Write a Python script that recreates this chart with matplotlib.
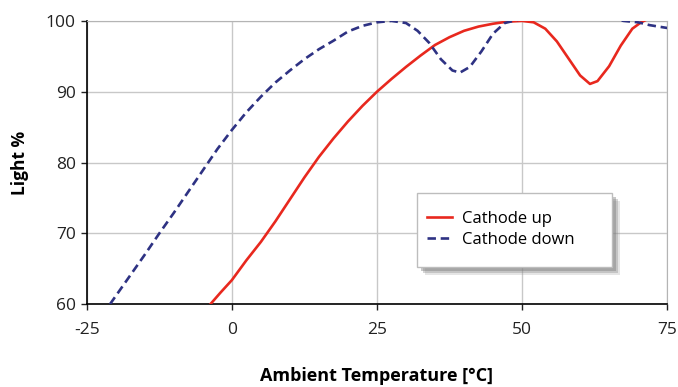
import matplotlib.pyplot as plt
import matplotlib.patheffects as pe
from matplotlib.patches import Rectangle

plt.rcParams['font.family'] = ['Open Sans', 'DejaVu Sans']
plt.rcParams['axes.unicode_minus'] = False

# data (values just over 100 sit under the top border)
up_x = [-3.7, -2, 0, 2.5, 5, 7.5, 10, 12.5, 15, 17.5, 20, 22.5, 25, 27.5, 30, 32.5, 35, 37.5, 40, 42.5, 45, 47.5, 50,
        52, 54, 56, 58, 60, 61.7, 63, 65, 67, 69, 70.5, 72, 75]
up_y = [60, 61.6, 63.4, 66.2, 68.8, 71.7, 74.8, 77.9, 80.8, 83.4, 85.8, 88, 90, 91.8, 93.5, 95.1, 96.6, 97.7, 98.6, 99.2, 99.6, 99.9, 100,
        99.8, 98.9, 97.1, 94.7, 92.3, 91.1, 91.5, 93.6, 96.5, 98.9, 99.8, 100.4, 100.6]

down_x = [-21, -18, -15, -12.5, -10, -7.5, -5, -2.5, 0, 2.5, 5, 7.5, 10, 12.5, 15, 17.5, 20, 22.5, 25, 27.5, 30,
          32, 34, 36, 38, 39.3, 41, 43, 45, 47, 49, 52, 60, 65, 67.5, 70, 72, 75]
down_y = [60, 63.5, 67, 70, 72.9, 75.9, 78.9, 81.9, 84.6, 87.1, 89.3, 91.3, 93, 94.6, 96, 97.2, 98.5, 99.3, 99.8, 100, 99.7,
          98.6, 96.9, 94.6, 93, 92.7, 93.5, 95.7, 98.2, 99.7, 100.1, 100.6, 100.6, 100.4, 100, 99.8, 99.4, 99]

x_ticks = [-25, 0, 25, 50, 75]
y_ticks = [60, 70, 80, 90, 100]

fig = plt.figure(figsize=(6.78, 3.87), dpi=100)
ax = fig.add_axes([0.128, 0.214, 0.856, 0.732])

ax.plot(up_x, up_y, color='#e8281e', lw=1.9, label='Cathode up', zorder=3)
ax.plot(down_x, down_y, color='#2e3283', lw=1.9, ls=(0, (3.2, 1.8)), label='Cathode down', zorder=3)

ax.set_xlim(-25, 75)
ax.set_ylim(60, 100)
ax.set_xticks(x_ticks)
ax.set_yticks(y_ticks)
ax.grid(True, color='#c8c8c8', lw=1)
ax.set_axisbelow(True)

for s in ['top', 'right']:
    ax.spines[s].set_color('#b4b4b4')
for s in ['left', 'bottom']:
    ax.spines[s].set_color('#000000')
    ax.spines[s].set_linewidth(1.2)

ax.tick_params(axis='both', labelsize=12.5, colors='#222222', length=4, width=1)
ax.tick_params(axis='x', pad=9)
ax.tick_params(axis='y', pad=4)

ax.set_ylabel('Light %', fontsize=12.5, fontweight='bold', labelpad=12)
ax.set_xlabel('Ambient Temperature [°C]', fontsize=13, fontweight='bold', labelpad=21)

# legend box with a soft shadow
box = Rectangle((0.569, 0.131), 0.336, 0.261, transform=ax.transAxes, facecolor='white',
                edgecolor='#bdbdbd', lw=1, zorder=5)
box.set_path_effects([
    pe.SimplePatchShadow(offset=(6, -6), shadow_rgbFace='#999999', alpha=0.25),
    pe.SimplePatchShadow(offset=(4.5, -4.5), shadow_rgbFace='#888888', alpha=0.35),
    pe.SimplePatchShadow(offset=(3, -3), shadow_rgbFace='#777777', alpha=0.4),
    pe.Normal()])
ax.add_patch(box)

leg = ax.legend(loc='center left', bbox_to_anchor=(0.586, 0.263), frameon=False,
                fontsize=12, handlelength=1.5, handletextpad=0.6, labelspacing=0.3,
                borderpad=0, borderaxespad=0)
leg.set_zorder(6)

fig.savefig('out.png', dpi=100)
